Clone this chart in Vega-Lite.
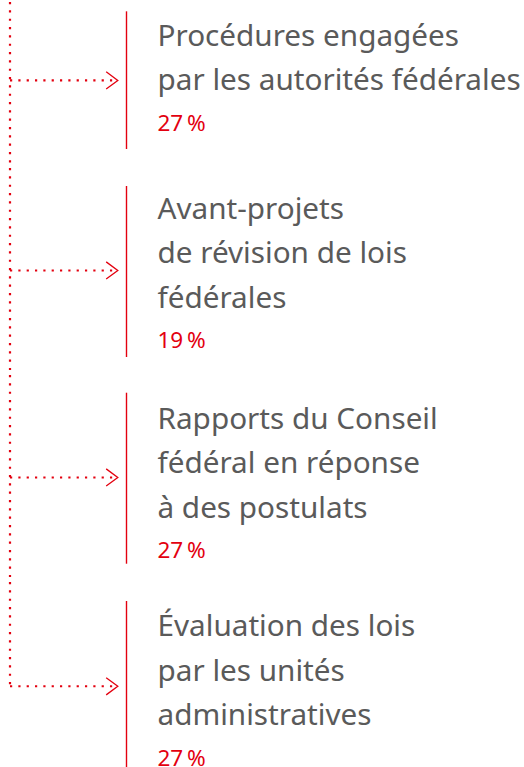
{
  "$schema": "https://vega.github.io/schema/vega-lite/v6.json",
  "padding": 0,
  "spacing": 0,
  "bounds": "flush",
  "background": "white",
  "config": {"view": {"stroke": null}, "concat": {"spacing": 0}},
  "datasets": {
    "blocks": [
      {"block": 1, "category": "Procédures engagées par les autorités fédérales", "pct": 27, "lines": 2},
      {"block": 2, "category": "Avant-projets de révision de lois fédérales", "pct": 19, "lines": 3},
      {"block": 3, "category": "Rapports du Conseil fédéral en réponse à des postulats", "pct": 27, "lines": 3},
      {"block": 4, "category": "Évaluation des lois par les unités administratives", "pct": 27, "lines": 3}
    ],
    "textlines": [
      {"block": 1, "line": 0, "text": "Procédures engagées"},
      {"block": 1, "line": 1, "text": "par les autorités fédérales"},
      {"block": 2, "line": 0, "text": "Avant-projets"},
      {"block": 2, "line": 1, "text": "de révision de lois"},
      {"block": 2, "line": 2, "text": "fédérales"},
      {"block": 3, "line": 0, "text": "Rapports du Conseil"},
      {"block": 3, "line": 1, "text": "fédéral en réponse"},
      {"block": 3, "line": 2, "text": "à des postulats"},
      {"block": 4, "line": 0, "text": "Évaluation des lois"},
      {"block": 4, "line": 1, "text": "par les unités"},
      {"block": 4, "line": 2, "text": "administratives"}
    ]
  },
  "resolve": {"scale": {"x": "independent", "y": "independent"}},
  "vconcat": [
    {
      "width": 524, "height": 166,
      "data": {"name": "blocks"},
      "transform": [{"filter": "datum.block == 1"}, {"calculate": "format(datum.pct, 'd') + '\u202f%'", "as": "label"}],
      "layer": [
        {"mark": {"type": "rule", "color": "#e3000f", "strokeWidth": 2.2, "strokeDash": [2.2, 6.13]},
         "encoding": {"x": {"datum": 10, "type": "quantitative", "scale": {"domain": [0, 524], "nice": false, "zero": false}, "axis": null}}},
        {"mark": {"type": "rule", "color": "#e3000f", "strokeWidth": 2.2, "strokeDash": [2.2, 6.13]},
         "encoding": {"x": {"datum": 10, "type": "quantitative", "scale": {"domain": [0, 524], "nice": false, "zero": false}, "axis": null},
                      "x2": {"datum": 116},
                      "y": {"datum": 0.78, "type": "quantitative", "scale": {"domain": [-0.978, 2.744], "reverse": true, "nice": false, "zero": false}, "axis": null}}},
        {"mark": {"type": "point", "shape": "M-1.35,-1L0,0L-1.35,1", "filled": false, "stroke": "#e3000f", "strokeWidth": 1.3, "size": 296, "opacity": 1},
         "encoding": {"x": {"datum": 117.8, "type": "quantitative", "scale": {"domain": [0, 524], "nice": false, "zero": false}, "axis": null},
                      "y": {"datum": 0.78, "type": "quantitative", "scale": {"domain": [-0.978, 2.744], "reverse": true, "nice": false, "zero": false}, "axis": null}}},
        {"mark": {"type": "rule", "color": "#e3000f", "strokeWidth": 1.4},
         "encoding": {"x": {"datum": 126.5, "type": "quantitative", "scale": {"domain": [0, 524], "nice": false, "zero": false}, "axis": null},
                      "y": {"datum": -0.769, "type": "quantitative", "scale": {"domain": [-0.978, 2.744], "reverse": true, "nice": false, "zero": false}, "axis": null},
                      "y2": {"datum": 2.318}}},
        {"data": {"name": "textlines"},
         "transform": [{"filter": "datum.block == 1"}],
         "mark": {"type": "text", "align": "left", "baseline": "alphabetic", "font": "Noto Sans", "fontSize": 29.7, "color": "#5a5a5a"},
         "encoding": {"x": {"datum": 157.5, "type": "quantitative", "scale": {"domain": [0, 524], "nice": false, "zero": false}, "axis": null},
                      "y": {"field": "line", "type": "quantitative", "scale": {"domain": [-0.978, 2.744], "reverse": true, "nice": false, "zero": false}, "axis": null},
                      "text": {"field": "text"}}},
        {"mark": {"type": "text", "align": "left", "baseline": "alphabetic", "font": "Noto Sans", "fontSize": 22.5, "color": "#e3000f", "dy": -4.2},
         "encoding": {"x": {"datum": 157.5, "type": "quantitative", "scale": {"domain": [0, 524], "nice": false, "zero": false}, "axis": null},
                      "y": {"field": "lines", "type": "quantitative", "scale": {"domain": [-0.978, 2.744], "reverse": true, "nice": false, "zero": false}, "axis": null},
                      "text": {"field": "label"}}}
      ]
    },
    {
      "width": 524, "height": 207,
      "data": {"name": "blocks"},
      "transform": [{"filter": "datum.block == 2"}, {"calculate": "format(datum.pct, 'd') + '\u202f%'", "as": "label"}],
      "layer": [
        {"mark": {"type": "rule", "color": "#e3000f", "strokeWidth": 2.2, "strokeDash": [2.2, 6.13]},
         "encoding": {"x": {"datum": 10, "type": "quantitative", "scale": {"domain": [0, 524], "nice": false, "zero": false}, "axis": null}}},
        {"mark": {"type": "rule", "color": "#e3000f", "strokeWidth": 2.2, "strokeDash": [2.2, 6.13]},
         "encoding": {"x": {"datum": 10, "type": "quantitative", "scale": {"domain": [0, 524], "nice": false, "zero": false}, "axis": null},
                      "x2": {"datum": 116},
                      "y": {"datum": 1.161, "type": "quantitative", "scale": {"domain": [-1.137, 3.504], "reverse": true, "nice": false, "zero": false}, "axis": null}}},
        {"mark": {"type": "point", "shape": "M-1.35,-1L0,0L-1.35,1", "filled": false, "stroke": "#e3000f", "strokeWidth": 1.3, "size": 296, "opacity": 1},
         "encoding": {"x": {"datum": 117.8, "type": "quantitative", "scale": {"domain": [0, 524], "nice": false, "zero": false}, "axis": null},
                      "y": {"datum": 1.161, "type": "quantitative", "scale": {"domain": [-1.137, 3.504], "reverse": true, "nice": false, "zero": false}, "axis": null}}},
        {"mark": {"type": "rule", "color": "#e3000f", "strokeWidth": 1.4},
         "encoding": {"x": {"datum": 126.5, "type": "quantitative", "scale": {"domain": [0, 524], "nice": false, "zero": false}, "axis": null},
                      "y": {"datum": -0.733, "type": "quantitative", "scale": {"domain": [-1.137, 3.504], "reverse": true, "nice": false, "zero": false}, "axis": null},
                      "y2": {"datum": 3.101}}},
        {"data": {"name": "textlines"},
         "transform": [{"filter": "datum.block == 2"}],
         "mark": {"type": "text", "align": "left", "baseline": "alphabetic", "font": "Noto Sans", "fontSize": 29.7, "color": "#5a5a5a"},
         "encoding": {"x": {"datum": 157.5, "type": "quantitative", "scale": {"domain": [0, 524], "nice": false, "zero": false}, "axis": null},
                      "y": {"field": "line", "type": "quantitative", "scale": {"domain": [-1.137, 3.504], "reverse": true, "nice": false, "zero": false}, "axis": null},
                      "text": {"field": "text"}}},
        {"mark": {"type": "text", "align": "left", "baseline": "alphabetic", "font": "Noto Sans", "fontSize": 22.5, "color": "#e3000f", "dy": -4.2},
         "encoding": {"x": {"datum": 157.5, "type": "quantitative", "scale": {"domain": [0, 524], "nice": false, "zero": false}, "axis": null},
                      "y": {"field": "lines", "type": "quantitative", "scale": {"domain": [-1.137, 3.504], "reverse": true, "nice": false, "zero": false}, "axis": null},
                      "text": {"field": "label"}}}
      ]
    },
    {
      "width": 524, "height": 207,
      "data": {"name": "blocks"},
      "transform": [{"filter": "datum.block == 3"}, {"calculate": "format(datum.pct, 'd') + '\u202f%'", "as": "label"}],
      "layer": [
        {"mark": {"type": "rule", "color": "#e3000f", "strokeWidth": 2.2, "strokeDash": [2.2, 6.13]},
         "encoding": {"x": {"datum": 10, "type": "quantitative", "scale": {"domain": [0, 524], "nice": false, "zero": false}, "axis": null}}},
        {"mark": {"type": "rule", "color": "#e3000f", "strokeWidth": 2.2, "strokeDash": [2.2, 6.13]},
         "encoding": {"x": {"datum": 10, "type": "quantitative", "scale": {"domain": [0, 524], "nice": false, "zero": false}, "axis": null},
                      "x2": {"datum": 116},
                      "y": {"datum": 1.094, "type": "quantitative", "scale": {"domain": [-1.204, 3.437], "reverse": true, "nice": false, "zero": false}, "axis": null}}},
        {"mark": {"type": "point", "shape": "M-1.35,-1L0,0L-1.35,1", "filled": false, "stroke": "#e3000f", "strokeWidth": 1.3, "size": 296, "opacity": 1},
         "encoding": {"x": {"datum": 117.8, "type": "quantitative", "scale": {"domain": [0, 524], "nice": false, "zero": false}, "axis": null},
                      "y": {"datum": 1.094, "type": "quantitative", "scale": {"domain": [-1.204, 3.437], "reverse": true, "nice": false, "zero": false}, "axis": null}}},
        {"mark": {"type": "rule", "color": "#e3000f", "strokeWidth": 1.4},
         "encoding": {"x": {"datum": 126.5, "type": "quantitative", "scale": {"domain": [0, 524], "nice": false, "zero": false}, "axis": null},
                      "y": {"datum": -0.807, "type": "quantitative", "scale": {"domain": [-1.204, 3.437], "reverse": true, "nice": false, "zero": false}, "axis": null},
                      "y2": {"datum": 3.027}}},
        {"data": {"name": "textlines"},
         "transform": [{"filter": "datum.block == 3"}],
         "mark": {"type": "text", "align": "left", "baseline": "alphabetic", "font": "Noto Sans", "fontSize": 29.7, "color": "#5a5a5a"},
         "encoding": {"x": {"datum": 157.5, "type": "quantitative", "scale": {"domain": [0, 524], "nice": false, "zero": false}, "axis": null},
                      "y": {"field": "line", "type": "quantitative", "scale": {"domain": [-1.204, 3.437], "reverse": true, "nice": false, "zero": false}, "axis": null},
                      "text": {"field": "text"}}},
        {"mark": {"type": "text", "align": "left", "baseline": "alphabetic", "font": "Noto Sans", "fontSize": 22.5, "color": "#e3000f", "dy": -4.2},
         "encoding": {"x": {"datum": 157.5, "type": "quantitative", "scale": {"domain": [0, 524], "nice": false, "zero": false}, "axis": null},
                      "y": {"field": "lines", "type": "quantitative", "scale": {"domain": [-1.204, 3.437], "reverse": true, "nice": false, "zero": false}, "axis": null},
                      "text": {"field": "label"}}}
      ]
    },
    {
      "width": 524, "height": 187,
      "data": {"name": "blocks"},
      "transform": [{"filter": "datum.block == 4"}, {"calculate": "format(datum.pct, 'd') + '\u202f%'", "as": "label"}],
      "layer": [
        {"mark": {"type": "rule", "color": "#e3000f", "strokeWidth": 2.2, "strokeDash": [2.2, 6.13]},
         "encoding": {"x": {"datum": 10, "type": "quantitative", "scale": {"domain": [0, 524], "nice": false, "zero": false}, "axis": null},
                      "y": {"datum": -1.217, "type": "quantitative", "scale": {"domain": [-1.217, 2.976], "reverse": true, "nice": false, "zero": false}, "axis": null},
                      "y2": {"datum": 1.121}}},
        {"mark": {"type": "rule", "color": "#e3000f", "strokeWidth": 2.2, "strokeDash": [2.2, 6.13]},
         "encoding": {"x": {"datum": 10, "type": "quantitative", "scale": {"domain": [0, 524], "nice": false, "zero": false}, "axis": null},
                      "x2": {"datum": 116},
                      "y": {"datum": 1.121, "type": "quantitative", "scale": {"domain": [-1.217, 2.976], "reverse": true, "nice": false, "zero": false}, "axis": null}}},
        {"mark": {"type": "point", "shape": "M-1.35,-1L0,0L-1.35,1", "filled": false, "stroke": "#e3000f", "strokeWidth": 1.3, "size": 296, "opacity": 1},
         "encoding": {"x": {"datum": 117.8, "type": "quantitative", "scale": {"domain": [0, 524], "nice": false, "zero": false}, "axis": null},
                      "y": {"datum": 1.121, "type": "quantitative", "scale": {"domain": [-1.217, 2.976], "reverse": true, "nice": false, "zero": false}, "axis": null}}},
        {"mark": {"type": "rule", "color": "#e3000f", "strokeWidth": 1.4},
         "encoding": {"x": {"datum": 126.5, "type": "quantitative", "scale": {"domain": [0, 524], "nice": false, "zero": false}, "axis": null},
                      "y": {"datum": -0.791, "type": "quantitative", "scale": {"domain": [-1.217, 2.976], "reverse": true, "nice": false, "zero": false}, "axis": null},
                      "y2": {"datum": 2.976}}},
        {"data": {"name": "textlines"},
         "transform": [{"filter": "datum.block == 4"}],
         "mark": {"type": "text", "align": "left", "baseline": "alphabetic", "font": "Noto Sans", "fontSize": 29.7, "color": "#5a5a5a"},
         "encoding": {"x": {"datum": 157.5, "type": "quantitative", "scale": {"domain": [0, 524], "nice": false, "zero": false}, "axis": null},
                      "y": {"field": "line", "type": "quantitative", "scale": {"domain": [-1.217, 2.976], "reverse": true, "nice": false, "zero": false}, "axis": null},
                      "text": {"field": "text"}}},
        {"mark": {"type": "text", "align": "left", "baseline": "alphabetic", "font": "Noto Sans", "fontSize": 22.5, "color": "#e3000f", "dy": -4.2},
         "encoding": {"x": {"datum": 157.5, "type": "quantitative", "scale": {"domain": [0, 524], "nice": false, "zero": false}, "axis": null},
                      "y": {"field": "lines", "type": "quantitative", "scale": {"domain": [-1.217, 2.976], "reverse": true, "nice": false, "zero": false}, "axis": null},
                      "text": {"field": "label"}}}
      ]
    }
  ]
}
